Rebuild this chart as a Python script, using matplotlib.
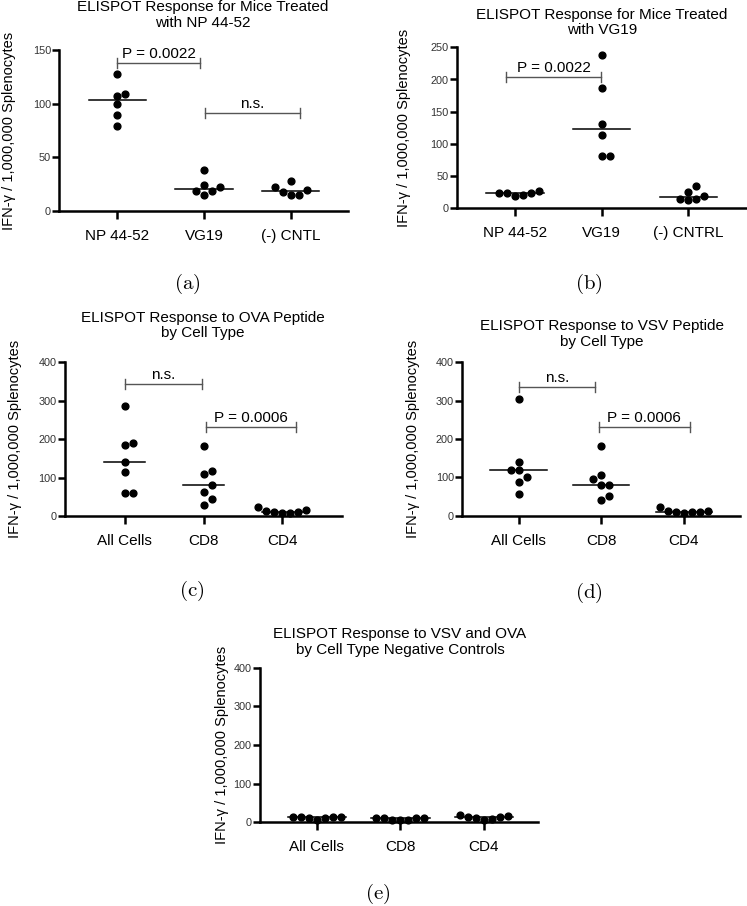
import numpy as np
import matplotlib
matplotlib.use('Agg')
import matplotlib.pyplot as plt

plt.rcParams['font.family'] = ['Liberation Sans', 'DejaVu Sans']
plt.rcParams['mathtext.fontset'] = 'cm'

# ---- data (IFN-gamma spots per 1,000,000 splenocytes) ----
cats_ab_a = ['NP 44-52', 'VG19', '(-) CNTL']
cats_ab_b = ['NP 44-52', 'VG19', '(-) CNTRL']
cats_cell = ['All Cells', 'CD8', 'CD4']

a_np = [127.6, 109.2, 107.4, 99.3, 89.3, 79.0]
a_vg19 = [38.0, 15.0, 22.0, 24.0, 18.7, 18.7]
a_cntl = [28.0, 22.4, 15.0, 19.3, 15.0, 17.7]

b_np = [21.2, 27.4, 23.3, 24.3, 19.2, 23.3]
b_vg19 = [237.6, 186.9, 131.0, 114.4, 80.7, 80.7]
b_cntrl = [35.2, 25.4, 12.4, 19.7, 14.0, 15.0]

c_all = [285.0, 184.5, 189.7, 141.3, 114.9, 58.8, 59.6]
c_cd8 = [181.4, 109.7, 118.4, 81.2, 61.3, 44.0, 28.5]
c_cd4 = [23.0, 15.0, 11.0, 7.0, 9.0, 11.0, 14.0]

d_all = [305.0, 140.8, 118.4, 117.5, 101.0, 86.4, 56.2]
d_cd8 = [180.6, 95.0, 104.5, 79.5, 79.5, 40.6, 51.8]
d_cd4 = [9.0, 22.0, 9.0, 13.0, 8.0, 13.0, 7.0]

e_all = [10.0, 14.0, 13.0, 14.0, 6.0, 13.0, 11.0]
e_cd8 = [7.0, 12.0, 10.0, 12.0, 5.0, 10.0, 7.0]
e_cd4 = [10.0, 20.0, 14.0, 14.0, 6.0, 16.0, 9.0]

ylabel = 'IFN-γ / 1,000,000 Splenocytes'

W, H = 747, 906
fig = plt.figure(figsize=(W / 100, H / 100), dpi=100)

panels = [
    dict(box=(59.3, 348, 50, 211), xlim=(-0.67, 2.66), ymax=150, ystep=50,
         cats=cats_ab_a, groups=[a_np, a_vg19, a_cntl],
         title='ELISPOT Response for Mice Treated\nwith NP 44-52', title_xy=(203, 15),
         ylab_x=9.5, caption='(a)', cap_xy=(187, 284), med_hw=0.33,
         brackets=[(0.0, 0.95, 138, 'P = 0.0022'), (1.01, 2.11, 91, 'n.s.')]),
    dict(box=(457, 747, 47.3, 208.3), xlim=(-0.67, 2.68), ymax=250, ystep=50,
         cats=cats_ab_b, groups=[b_np, b_vg19, b_cntrl],
         title='ELISPOT Response for Mice Treated\nwith VG19', title_xy=(602, 22.5),
         ylab_x=404.5, caption='(b)', cap_xy=(589, 284), med_hw=0.33,
         brackets=[(-0.10, 0.99, 204, 'P = 0.0022')]),
    dict(box=(65, 341.7, 362.3, 516), xlim=(-0.76, 2.755), ymax=400, ystep=100,
         cats=cats_cell, groups=[c_all, c_cd8, c_cd4],
         title='ELISPOT Response to OVA Peptide\nby Cell Type', title_xy=(203, 325.5),
         ylab_x=15, caption='(c)', cap_xy=(192, 591), med_hw=0.26,
         brackets=[(0.0, 0.98, 344, 'n.s.'), (1.03, 2.18, 231, 'P = 0.0006')]),
    dict(box=(462.3, 740, 362.3, 515.5), xlim=(-0.68, 2.68), ymax=400, ystep=100,
         cats=cats_cell, groups=[d_all, d_cd8, d_cd4],
         title='ELISPOT Response to VSV Peptide\nby Cell Type', title_xy=(601.7, 334),
         ylab_x=413.5, caption='(d)', cap_xy=(589, 593), med_hw=0.34,
         brackets=[(0.0, 0.93, 335, 'n.s.'), (0.97, 2.07, 231, 'P = 0.0006')]),
    dict(box=(260, 538.3, 667.7, 822.3), xlim=(-0.68, 2.65), ymax=400, ystep=100,
         cats=cats_cell, groups=[e_all, e_cd8, e_cd4],
         title='ELISPOT Response to VSV and OVA\nby Cell Type Negative Controls', title_xy=(400, 641.7),
         ylab_x=221.7, caption='(e)', cap_xy=(378, 894), med_hw=0.35,
         brackets=[]),
]


def swarm_offsets(ax, xc, vals, spacing):
    # greedy beeswarm in pixel space, lowest points first
    pts = ax.transData.transform([(xc, v) for v in vals])
    px_per_unit = ax.transData.transform([(1, 0)])[0, 0] - ax.transData.transform([(0, 0)])[0, 0]
    placed = []
    offs = np.zeros(len(vals))
    for i in np.argsort(vals, kind='stable'):
        y = pts[i, 1]
        for k in [0, 1, -1, 2, -2, 3, -3, 4, -4, 5, -5]:
            x = k * spacing
            if all((x - qx) ** 2 + (y - qy) ** 2 >= spacing ** 2 for qx, qy in placed):
                break
        placed.append((x, y))
        offs[i] = x / px_per_unit
    return offs


for p in panels:
    l, r, t, b = p['box']
    ax = fig.add_axes([l / W, 1 - b / H, (r - l) / W, (b - t) / H])
    ax.set_xlim(*p['xlim'])
    ax.set_ylim(0, p['ymax'])
    for s in ['top', 'right']:
        ax.spines[s].set_visible(False)
    for s in ['left', 'bottom']:
        ax.spines[s].set_linewidth(1.8)
    ax.set_xticks(range(3))
    ax.set_xticklabels(p['cats'], fontsize=11)
    ax.set_yticks(np.arange(0, p['ymax'] + 1, p['ystep']))
    ax.tick_params(axis='x', length=6, width=1.8, pad=7)
    ax.tick_params(axis='y', length=5, width=1.8, pad=1, labelsize=7.8, labelcolor='#333333')

    for i, vals in enumerate(p['groups']):
        offs = swarm_offsets(ax, i, vals, 8.0)
        ax.plot(i + offs, vals, 'o', color='black', ms=4.9, clip_on=False, zorder=3)
        med = np.median(vals)
        ax.plot([i - p['med_hw'], i + p['med_hw']], [med, med], color='black', lw=1.1, zorder=2)

    # significance brackets
    yperpx = p['ymax'] / (b - t)
    for x0, x1, yb, lab in p['brackets']:
        cap = 5 * yperpx
        ax.plot([x0, x1], [yb, yb], color='#555555', lw=1.0, clip_on=False)
        ax.plot([x0, x0], [yb - cap, yb + cap], color='#555555', lw=1.0, clip_on=False)
        ax.plot([x1, x1], [yb - cap, yb + cap], color='#555555', lw=1.0, clip_on=False)
        ax.text((x0 + x1) / 2, yb + 2 * yperpx, lab, ha='center', va='bottom', fontsize=11)

    tx, ty = p['title_xy']
    fig.text(tx / W, 1 - ty / H, p['title'], ha='center', va='center', fontsize=11, linespacing=1.15)
    fig.text(p['ylab_x'] / W, 1 - (t + b) / 2 / H, ylabel, rotation=90,
             ha='center', va='center', fontsize=10.5)
    cx, cy = p['cap_xy']
    fig.text(cx / W, 1 - cy / H, r'$\mathrm{' + p['caption'] + '}$', ha='center', va='center', fontsize=15)

fig.savefig('out.png', dpi=100)
